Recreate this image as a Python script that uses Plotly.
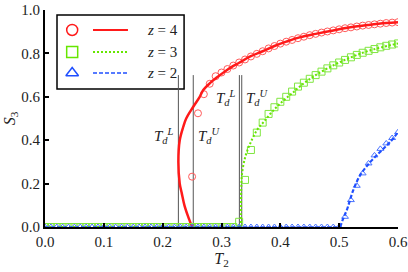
import plotly.graph_objects as go

# ---------------- data ----------------
T_grid = [0.00, 0.01, 0.02, 0.03, 0.04, 0.05, 0.06, 0.07, 0.08, 0.09,
          0.10, 0.11, 0.12, 0.13, 0.14, 0.15, 0.16, 0.17, 0.18, 0.19,
          0.20, 0.21, 0.22, 0.23, 0.24, 0.25, 0.26, 0.27, 0.28, 0.29,
          0.30, 0.31, 0.32, 0.33, 0.34, 0.35, 0.36, 0.37, 0.38, 0.39,
          0.40, 0.41, 0.42, 0.43, 0.44, 0.45, 0.46, 0.47, 0.48, 0.49,
          0.50, 0.51, 0.52, 0.53, 0.54, 0.55, 0.56, 0.57, 0.58, 0.59, 0.60]

# z = 4 (simulation markers from T=0.25 on)
z4_marker_T = T_grid[25:]
z4_marker_S = [0.232, 0.524, 0.612, 0.660, 0.695, 0.712, 0.728, 0.744, 0.758, 0.772,
               0.786, 0.798, 0.810, 0.823, 0.834, 0.845, 0.854, 0.862, 0.870, 0.877,
               0.884, 0.890, 0.896, 0.901, 0.906, 0.911, 0.916, 0.920, 0.924, 0.928,
               0.931, 0.934, 0.937, 0.940, 0.942, 0.944]
# z = 4 theory curve (parametric, re-entrant branch)
z4_line_T = [0.250, 0.243, 0.237, 0.2325, 0.229, 0.2267, 0.229, 0.235, 0.240, 0.252,
             0.263, 0.269, 0.280, 0.2925, 0.310, 0.330, 0.349, 0.370, 0.390, 0.410,
             0.434, 0.460, 0.490, 0.519, 0.550, 0.580, 0.600]
z4_line_S = [0.000, 0.050, 0.100, 0.155, 0.200, 0.300, 0.400, 0.462, 0.500, 0.554,
             0.600, 0.631, 0.662, 0.690, 0.725, 0.757, 0.786, 0.810, 0.834, 0.854,
             0.875, 0.890, 0.906, 0.920, 0.931, 0.940, 0.944]

# z = 3
z3_marker_T = T_grid
z3_marker_S = [0.0] * 33 + [0.024, 0.217, 0.355, 0.435, 0.481, 0.521, 0.552, 0.577, 0.600,
                            0.624, 0.647, 0.665, 0.683, 0.700, 0.716, 0.731, 0.745, 0.758,
                            0.770, 0.782, 0.793, 0.803, 0.812, 0.820, 0.828, 0.835, 0.841,
                            0.846]
z3_base_T = [0.0, 0.333]
z3_base_S = [0.0, 0.0]
z3_line_T = [0.333, 0.3332, 0.3335, 0.335, 0.3405, 0.349, 0.3605, 0.372, 0.386, 0.403,
             0.420, 0.436, 0.460, 0.490, 0.520, 0.550, 0.600]
z3_line_S = [0.000, 0.050, 0.170, 0.247, 0.324, 0.386, 0.447, 0.485, 0.531, 0.577,
             0.616, 0.654, 0.700, 0.745, 0.782, 0.812, 0.846]

# z = 2
z2_marker_T = T_grid
z2_marker_S = [0.0] * 51 + [0.047, 0.124, 0.190, 0.247, 0.293, 0.330, 0.360, 0.385, 0.410, 0.437]
z2_base_T = [0.0, 0.5017]
z2_base_S = [0.0, 0.0]
z2_line_T = [0.5017, 0.507, 0.513, 0.524, 0.536, 0.553, 0.570, 0.587, 0.600]
z2_line_S = [0.000, 0.040, 0.078, 0.170, 0.240, 0.300, 0.347, 0.393, 0.437]

# transition temperatures T_d^L, T_d^U (z=4, z=3) and the height of their markers
Td_lower = [0.2267, 0.3304]
Td_upper = [0.252, 0.3344]
Td_top = 0.70

x_ticks = [0.0, 0.1, 0.2, 0.3, 0.4, 0.5, 0.6]
x_tick_text = ["0.0", "0.1", "0.2", "0.3", "0.4", "0.5", "0.6"]
y_ticks = [0.0, 0.2, 0.4, 0.6, 0.8, 1.0]
y_tick_text = ["0.0", "0.2", "0.4", "0.6", "0.8", "1.0"]

legend_labels = ["<i>z</i> = 4", "<i>z</i> = 3", "<i>z</i> = 2"]

# ---------------- style ----------------
RED = "#ff1a1a"
RED_M = "#ff5a5a"
GREEN = "#66e600"
GREEN_M = "#80e640"
BLUE = "#1f4fff"
BLUE_M = "#4a74ff"
GRAY = "#555555"
FONT = "Liberation Serif, DejaVu Serif, serif"
TXT = "#222222"

fig = go.Figure()

# vertical T_d lines
for xl in Td_lower + Td_upper:
    fig.add_trace(go.Scatter(x=[xl, xl], y=[0, Td_top], mode="lines",
                             line=dict(color=GRAY, width=1), showlegend=False,
                             hoverinfo="skip"))

# z=4
fig.add_trace(go.Scatter(x=z4_marker_T, y=z4_marker_S, mode="markers",
                         marker=dict(symbol="circle-open", size=7, color=RED_M,
                                     line=dict(width=1, color=RED_M)),
                         showlegend=False))
fig.add_trace(go.Scatter(x=z4_line_T, y=z4_line_S, mode="lines", line_shape="spline",
                         line=dict(color=RED, width=2.5), showlegend=False))
# z=3
fig.add_trace(go.Scatter(x=z3_base_T, y=z3_base_S, mode="lines",
                         line=dict(color=GREEN, width=2, dash="2px,2px"), showlegend=False))
fig.add_trace(go.Scatter(x=z3_marker_T, y=z3_marker_S, mode="markers",
                         marker=dict(symbol="square-open", size=7, color=GREEN_M,
                                     line=dict(width=1, color=GREEN_M)),
                         showlegend=False))
fig.add_trace(go.Scatter(x=z3_line_T, y=z3_line_S, mode="lines", line_shape="spline",
                         line=dict(color=GREEN, width=2, dash="2px,2px"), showlegend=False))
# z=2
fig.add_trace(go.Scatter(x=z2_base_T, y=z2_base_S, mode="lines",
                         line=dict(color=BLUE, width=1.5, dash="4px,2px"), showlegend=False))
fig.add_trace(go.Scatter(x=z2_marker_T, y=z2_marker_S, mode="markers",
                         marker=dict(symbol="triangle-up-open", size=6, color=BLUE_M,
                                     line=dict(width=1, color=BLUE_M)),
                         showlegend=False))
fig.add_trace(go.Scatter(x=z2_line_T, y=z2_line_S, mode="lines", line_shape="spline",
                         line=dict(color=BLUE, width=2.2, dash="4px,2px"), showlegend=False))

# ---------------- custom legend (overlay axes in [0,1]) ----------------
leg_rows = [0.908, 0.806, 0.710]
leg_syms = ["circle-open", "square-open", "triangle-up-open"]
leg_mcol = [RED, GREEN, BLUE]
leg_lines = [dict(color=RED, width=2), dict(color=GREEN, width=2, dash="2px,2px"),
             dict(color=BLUE, width=1.5, dash="4px,2px")]
for yr, sym, mc, ln in zip(leg_rows, leg_syms, leg_mcol, leg_lines):
    fig.add_trace(go.Scatter(x=[0.077], y=[yr], mode="markers", xaxis="x2", yaxis="y2",
                             marker=dict(symbol=sym, size=11, color=mc,
                                         line=dict(width=1.5, color=mc)),
                             showlegend=False, hoverinfo="skip"))
    fig.add_trace(go.Scatter(x=[0.136, 0.235], y=[yr, yr], mode="lines", xaxis="x2",
                             yaxis="y2", line=ln, showlegend=False, hoverinfo="skip"))

annotations = []
for yr, lab in zip(leg_rows, legend_labels):
    annotations.append(dict(x=0.282, y=yr, xref="paper", yref="paper", text=lab,
                            showarrow=False, xanchor="left", yanchor="middle",
                            font=dict(family=FONT, size=15, color=TXT)))

# T_d labels
td_lab = "<i>T</i><sub><i>d</i></sub><sup><i>%s</i></sup>"
annotations += [
    dict(x=Td_lower[0] - 0.004, y=0.42, text=td_lab % "L", xanchor="right"),
    dict(x=Td_upper[0] + 0.004, y=0.42, text=td_lab % "U", xanchor="left"),
    dict(x=Td_lower[1] - 0.003, y=0.595, text=td_lab % "L", xanchor="right"),
    dict(x=Td_upper[1] + 0.003, y=0.595, text=td_lab % "U", xanchor="left"),
]
for a in annotations[3:]:
    a.update(xref="x", yref="y", showarrow=False, yanchor="middle",
             font=dict(family=FONT, size=15, color=TXT))

fig.update_layout(
    width=408, height=272,
    margin=dict(l=45, r=10, t=10, b=45, autoexpand=False),
    paper_bgcolor="white", plot_bgcolor="white",
    font=dict(family=FONT, size=14, color=TXT),
    showlegend=False,
    xaxis=dict(range=[0, 0.6], tickvals=x_ticks, ticktext=x_tick_text,
               automargin=False, ticklabeloverflow="allow",
               showgrid=False, zeroline=False, showline=True, linecolor="black",
               linewidth=2, ticks="inside", ticklen=4, tickwidth=1.5, tickcolor="black",
               tickfont=dict(family=FONT, size=15, color=TXT),
               title=dict(text="<i>T</i><sub>2</sub>", standoff=2,
                          font=dict(family=FONT, size=16, color=TXT))),
    yaxis=dict(range=[0, 1.0], tickvals=y_ticks, ticktext=y_tick_text,
               automargin=False, ticklabeloverflow="allow",
               showgrid=False, zeroline=False, showline=True, linecolor="black",
               linewidth=2, ticks="inside", ticklen=4, tickwidth=1.5, tickcolor="black",
               tickfont=dict(family=FONT, size=15, color=TXT),
               title=dict(text="<i>S</i><sub>3</sub>", standoff=2,
                          font=dict(family=FONT, size=16, color=TXT))),
    xaxis2=dict(range=[0, 1], overlaying="x", visible=False, fixedrange=True,
                automargin=False),
    yaxis2=dict(range=[0, 1], overlaying="y", visible=False, fixedrange=True,
                automargin=False),
    shapes=[dict(type="rect", xref="paper", yref="paper", x0=0.034, x1=0.394,
                 y0=0.636, y1=0.977, line=dict(color="black", width=1.5),
                 fillcolor="white", layer="below")],
    annotations=annotations,
)

# remove the page's default body margin so the figure sits at (0, 0)
fig.write_html("out.html", config={"displayModeBar": False},
               post_script="document.body.style.margin='0';document.body.style.padding='0';")
